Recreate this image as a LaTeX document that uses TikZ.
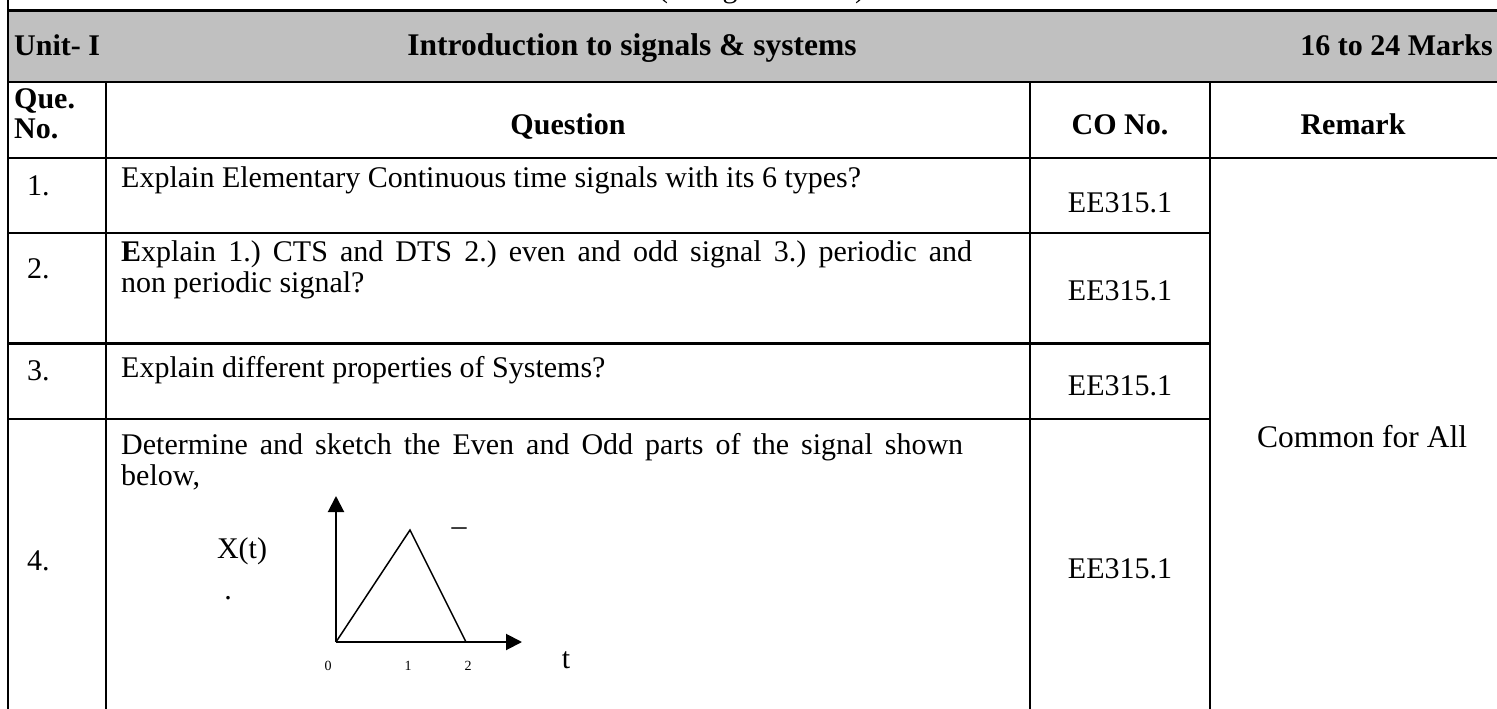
\documentclass[tikz,border=0pt]{standalone}
\usepackage{fontspec}
\setmainfont{Liberation Serif}
\usetikzlibrary{arrows.meta}
\usetikzlibrary{positioning}
\frenchspacing

\definecolor{bargray}{RGB}{192,192,192}

\tikzset{
  rule/.style={line width=2.7pt},
  cell/.style={inner sep=0pt, font=\fontsize{30}{34}\selectfont},
  headcell/.style={cell, font=\fontsize{30}{34}\selectfont\bfseries},
  ticklabel/.style={inner sep=0pt, font=\fontsize{14}{16}\selectfont},
  axis/.style={line width=2pt, -{Triangle[length=16pt,width=16pt]}},
}

\begin{document}
\begin{tikzpicture}[x=1pt, y=-1pt]
    \useasboundingbox (0,0) rectangle (1497,709);

    % Tails of the title line above, cut by the page edge
    \node[cell, anchor=base] (titleopen) at (663,-2) {(};
    \node[cell, anchor=base] (titleg) at (730,-2) {g};
    \node[cell, anchor=base] (titleclose) at (860,-2) {)};

    % Grey unit bar
    \fill[bargray] (8,10.5) rectangle (1497,82);
    \node[headcell, anchor=base west] (unitno) at (14,56) {Unit- I};
    \node[headcell, anchor=base, font=\fontsize{31.5}{34}\selectfont\bfseries] (unittitle) at (632,56) {Introduction to signals \& systems};
    \node[headcell, anchor=base east] (unitmarks) at (1493,56) {16 to 24 Marks};

    % Table rules
    \foreach \y in {10.5,82,158} {
      \draw[rule] (8,\y) -- (1497,\y);
    }
    \foreach \y in {233,343.5,419} {
      \draw[rule] (8,\y) -- (1210,\y);
    }
    \draw[rule] (8,0) -- (8,709);
    \foreach \x in {106,1030,1210} {
      \draw[rule] (\x,82) -- (\x,709);
    }

    % Column heads
    \node[headcell, anchor=base west] (hdque) at (14,108) {Que.};
    \node[headcell, anchor=base west] (hdno) at (14,138) {No.};
    \node[headcell, anchor=base] (hdquestion) at (568,134) {Question};
    \node[headcell, anchor=base] (hdco) at (1120,134) {CO No.};
    \node[headcell, anchor=base] (hdremark) at (1353,134) {Remark};

    % Question numbers and CO numbers
    \foreach \r/\yb/\yc in {1/195/212, 2/278/300, 3/380/395, 4/570/578} {
      \node[cell, anchor=base west] (num\r) at (27,\yb) {\r.};
      \node[cell, anchor=base] (co\r) at (1120,\yc) {EE315.1};
    }

    % Questions
    \node[cell, anchor=base west] (qtext1) at (121,187) {Explain Elementary Continuous time signals with its 6 types?};
    \node[cell, anchor=base west] (qtext2a) at (121,261) {\makebox[851pt][s]{\textbf{E}xplain 1.) CTS and DTS 2.) even and odd signal 3.) periodic and}};
    \node[cell, anchor=base west] (qtext2b) at (121,292) {non periodic signal?};
    \node[cell, anchor=base west] (qtext3) at (121,377) {Explain different properties of Systems?};
    \node[cell, anchor=base west] (qtext4a) at (121,454) {\makebox[842pt][s]{Determine and sketch the Even and Odd parts of the signal shown}};
    \node[cell, anchor=base west] (qtext4b) at (121,485) {below,};

    % Remark spans all four rows
    \node[cell, anchor=base, font=\fontsize{31.5}{34}\selectfont] (remark) at (1362,447) {Common for All};

    % Triangular signal
    \coordinate (origin) at (336,642);
    \coordinate (ytip) at (336,496);
    \coordinate (xtip) at (522,642);
    \coordinate (peak) at (410,530);
    \coordinate (tend) at (466,642);
    \draw[axis] (origin) -- (ytip);
    \draw[axis] (origin) -- (xtip);
    \draw[line width=1.5pt, line join=miter] (origin) -- (peak) -- (tend);

    \node[cell] (xlabel) at (242,551) {X(t)};
    \node[cell] (xdot) at (228,598) {.};
    \node[cell] (dash) at (459,532) {–};
    \node[cell, anchor=base] (tlabel) at (566,668) {t};
    \foreach \t/\x in {0/328, 1/408, 2/468} {
      \node[ticklabel, anchor=base] (tick\t) at (\x,670) {\t};
    }
\end{tikzpicture}
\end{document}
